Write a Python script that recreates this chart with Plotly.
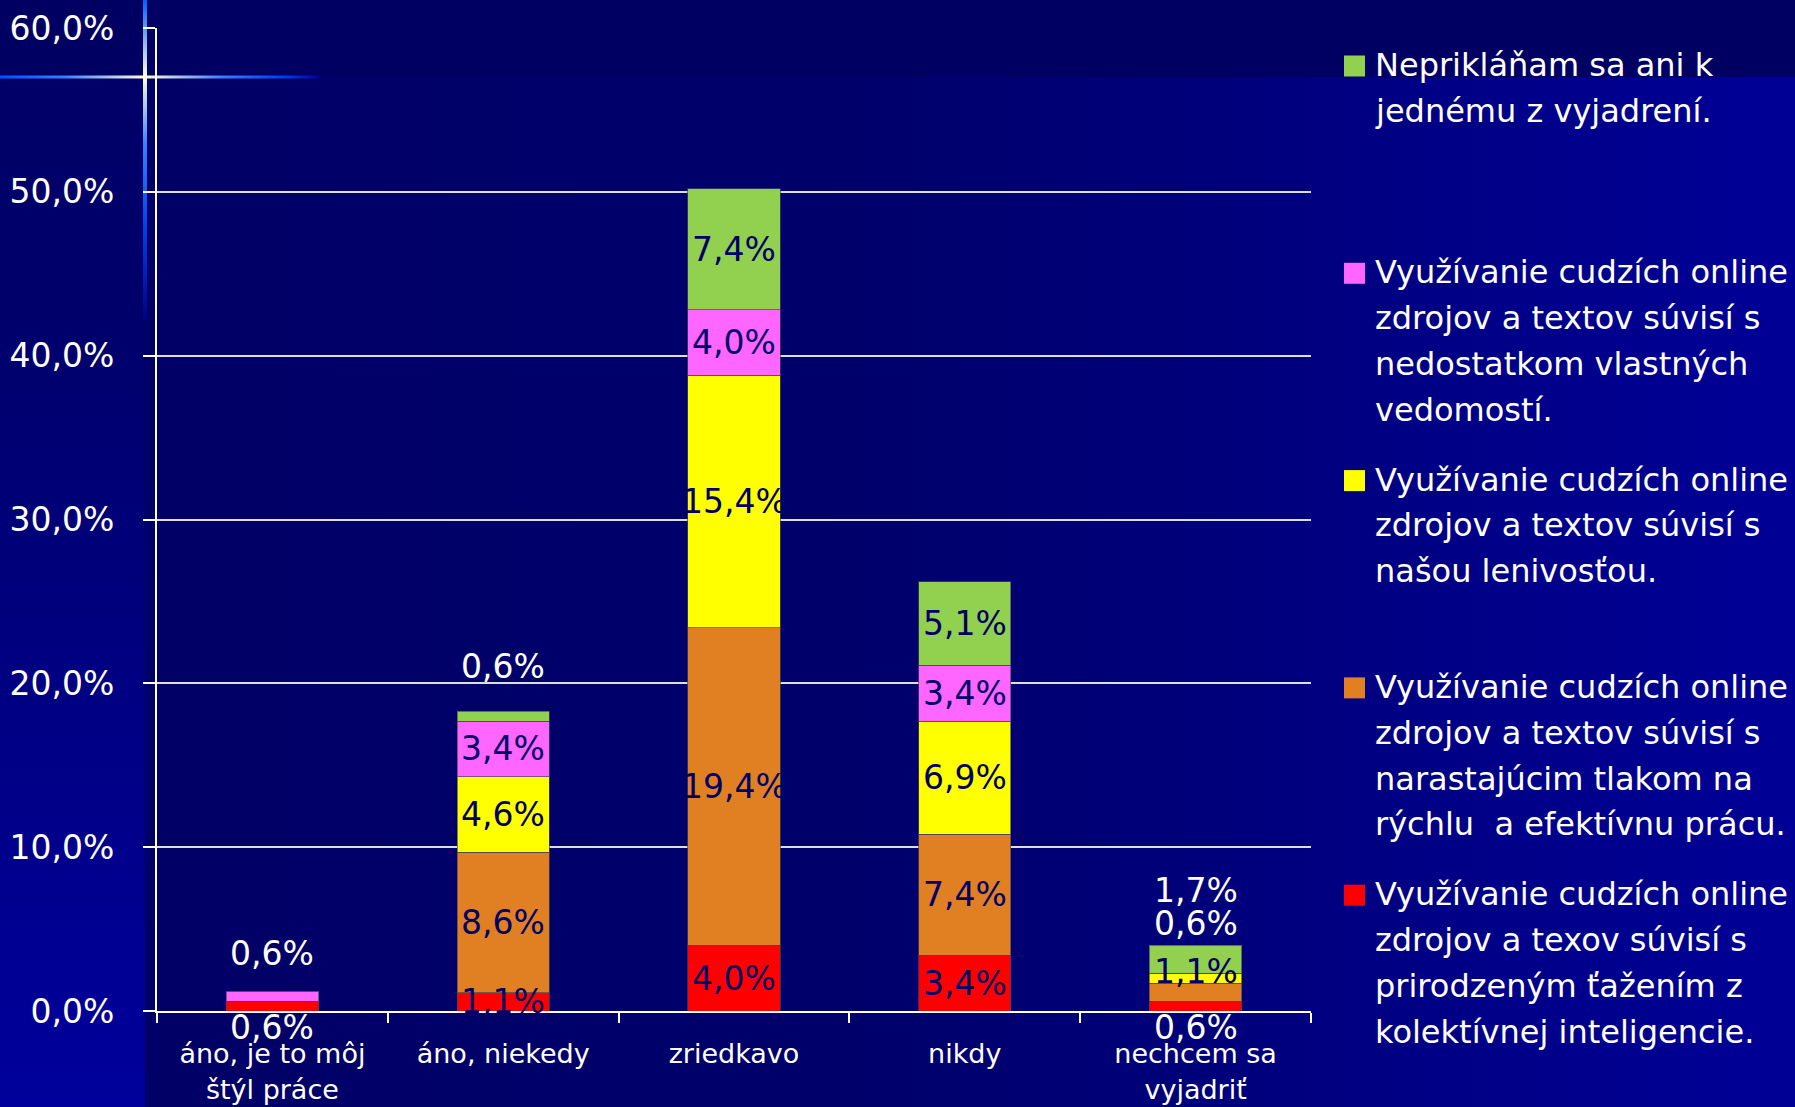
import base64
import plotly.graph_objects as go

# ---------------- data ----------------
categories = ["áno, je to môj<br>štýl práce", "áno, niekedy", "zriedkavo", "nikdy", "nechcem sa<br>vyjadriť"]

series_names = [
    "Využívanie cudzích online<br>zdrojov a texov súvisí s<br>prirodzeným ťažením z<br>kolektívnej inteligencie.",
    "Využívanie cudzích online<br>zdrojov a textov súvisí s<br>narastajúcim tlakom na<br>rýchlu\u00a0 a efektívnu prácu.",
    "Využívanie cudzích online<br>zdrojov a textov súvisí s<br>našou lenivosťou.",
    "Využívanie cudzích online<br>zdrojov a textov súvisí s<br>nedostatkom vlastných<br>vedomostí.",
    "Neprikláňam sa ani k<br>jednému z vyjadrení.",
]

kolektivna = [0.6, 1.1, 4.0, 3.4, 0.6]
tlak = [0.0, 8.6, 19.4, 7.4, 1.1]
lenivost = [0.0, 4.6, 15.4, 6.9, 0.6]
vedomosti = [0.6, 3.4, 4.0, 3.4, 0.0]
nepriklanam = [0.0, 0.6, 7.4, 5.1, 1.7]

series_values = [kolektivna, tlak, lenivost, vedomosti, nepriklanam]
series_colors = ["#FF0000", "#E08022", "#FFFF00", "#FF66FF", "#92D050"]

y_tick_vals = [0, 10, 20, 30, 40, 50, 60]
y_tick_text = [f"{v:.1f}".replace(".", ",") + "%" for v in y_tick_vals]

# ---------------- layout constants ----------------
W, H = 1795, 1107
ML, MR, MT, MB = 157, 484, 28, 96
PW, PH = W - ML - MR, H - MT - MB
FONT = "DejaVu Sans"
NAVY = "#000066"
WHITE = "#FFFFFF"

def px_x(px):
    return (px - ML) / PW

def px_y(py):
    return (H - MB - py) / PH

# label tweaks (series index, category index) -> (pixel shift up, colour)
LABEL_TWEAKS = {
    (3, 0): (43, WHITE),
    (0, 0): (-21, WHITE),
    (4, 1): (50, WHITE),
    (4, 4): (69, WHITE),
    (2, 4): (55, WHITE),
    (1, 4): (21, NAVY),
    (0, 4): (-21, WHITE),
}

fig = go.Figure()
for name, vals, col in zip(series_names, series_values, series_colors):
    fig.add_trace(go.Bar(
        x=categories, y=vals, name=name, showlegend=False,
        marker=dict(color=col, line=dict(width=1, color="rgba(70,70,90,0.7)")),
    ))

annotations = []
bases = [0.0] * len(categories)
for si, vals in enumerate(series_values):
    for ci, v in enumerate(vals):
        if v > 0:
            mid = bases[ci] + v / 2
            shift, colr = LABEL_TWEAKS.get((si, ci), (0, NAVY))
            annotations.append(dict(
                x=categories[ci], y=mid, xref="x", yref="y",
                text=f"{v:.1f}".replace(".", ",") + "%",
                showarrow=False, yshift=shift,
                font=dict(family=FONT, size=33, color=colr),
            ))
        bases[ci] += v

# custom legend (top entry = last series)
LEG_SQ_X0, LEG_SQ = 1344, 21
LEG_TEXT_X = 1373
LEG_TOP, LEG_SLOT, LEG_LINE = 65, 207.3, 45.8
shapes = []
for k, si in enumerate(reversed(range(len(series_names)))):
    yc = LEG_TOP + k * LEG_SLOT
    shapes.append(dict(
        type="rect", xref="paper", yref="paper",
        x0=px_x(LEG_SQ_X0), x1=px_x(LEG_SQ_X0 + LEG_SQ),
        y0=px_y(yc + 1 - LEG_SQ / 2), y1=px_y(yc + 1 + LEG_SQ / 2),
        fillcolor=series_colors[si], line=dict(width=0),
    ))
    for li, line in enumerate(series_names[si].split("<br>")):
        annotations.append(dict(
            x=px_x(LEG_TEXT_X), y=px_y(yc + li * LEG_LINE), xref="paper", yref="paper",
            text=line, showarrow=False, xanchor="left", yanchor="middle",
            font=dict(family=FONT, size=32, color=WHITE),
        ))

svg = f'''<svg xmlns="http://www.w3.org/2000/svg" width="{W}" height="{H}" viewBox="0 0 {W} {H}" preserveAspectRatio="none">
<defs>
<linearGradient id="lv" x1="0" y1="0" x2="0" y2="1">
<stop offset="0" stop-color="#000066"/><stop offset="0.3" stop-color="#00006c"/><stop offset="1" stop-color="#00009c"/></linearGradient>
<linearGradient id="ch" x1="0" y1="0" x2="1" y2="0">
<stop offset="0" stop-color="#000066"/><stop offset="0.45" stop-color="#00006c"/><stop offset="1" stop-color="#000096"/></linearGradient>
<linearGradient id="gh" x1="0" y1="0" x2="1" y2="0">
<stop offset="0" stop-color="#0050ff"/><stop offset="0.2" stop-color="#3a7bff"/><stop offset="0.45" stop-color="#ffffd8"/>
<stop offset="0.7" stop-color="#3c78ff"/><stop offset="0.88" stop-color="#0040f0"/><stop offset="1" stop-color="#000099"/></linearGradient>
<linearGradient id="gv" x1="0" y1="0" x2="0" y2="1">
<stop offset="0" stop-color="#0060ff"/><stop offset="0.24" stop-color="#ffffd8"/><stop offset="0.45" stop-color="#3c80ff"/>
<stop offset="0.7" stop-color="#0044ee"/><stop offset="1" stop-color="#000080"/></linearGradient>
</defs>
<rect width="{W}" height="{H}" fill="url(#lv)"/>
<rect x="145" y="77" width="{W-145}" height="{H-77}" fill="url(#ch)"/>
<rect x="0" y="0" width="{W}" height="77" fill="#000063"/>
<rect x="0" y="75.5" width="320" height="3" fill="url(#gh)"/>
<rect x="143" y="0" width="4" height="320" fill="url(#gv)"/>
</svg>'''
src = "data:image/svg+xml;base64," + base64.b64encode(svg.encode("utf-8")).decode("ascii")

fig.update_layout(
    width=W, height=H,
    margin=dict(l=ML, r=MR, t=MT, b=MB, pad=0),
    paper_bgcolor="#000099", plot_bgcolor="rgba(0,0,0,0)",
    barmode="stack", bargap=0.6,
    font=dict(family=FONT, color=WHITE),
    annotations=annotations, shapes=shapes,
    images=[dict(
        source=src, xref="paper", yref="paper",
        x=-ML / PW, y=1 + MT / PH, sizex=W / PW, sizey=H / PH,
        xanchor="left", yanchor="top", sizing="stretch", layer="below",
    )],
    xaxis=dict(
        type="category", showgrid=False, showline=True, linecolor=WHITE, linewidth=2,
        ticks="outside", tickson="boundaries", ticklen=10, tickwidth=2, tickcolor=WHITE,
        tickfont=dict(family=FONT, size=27, color=WHITE), ticklabelstandoff=18,
        automargin=False,
    ),
    yaxis=dict(
        range=[0, 60], tickvals=y_tick_vals, ticktext=y_tick_text,
        showgrid=True, gridcolor="#DDDDDD", gridwidth=2, zeroline=False,
        showline=True, linecolor=WHITE, linewidth=2,
        ticks="outside", ticklen=12, tickwidth=2, tickcolor=WHITE,
        tickfont=dict(family=FONT, size=33, color=WHITE), ticklabelstandoff=22,
        automargin=False,
    ),
)

fig.write_html("out.html", config={"displayModeBar": False},
               post_script="document.body.style.margin='0';")
